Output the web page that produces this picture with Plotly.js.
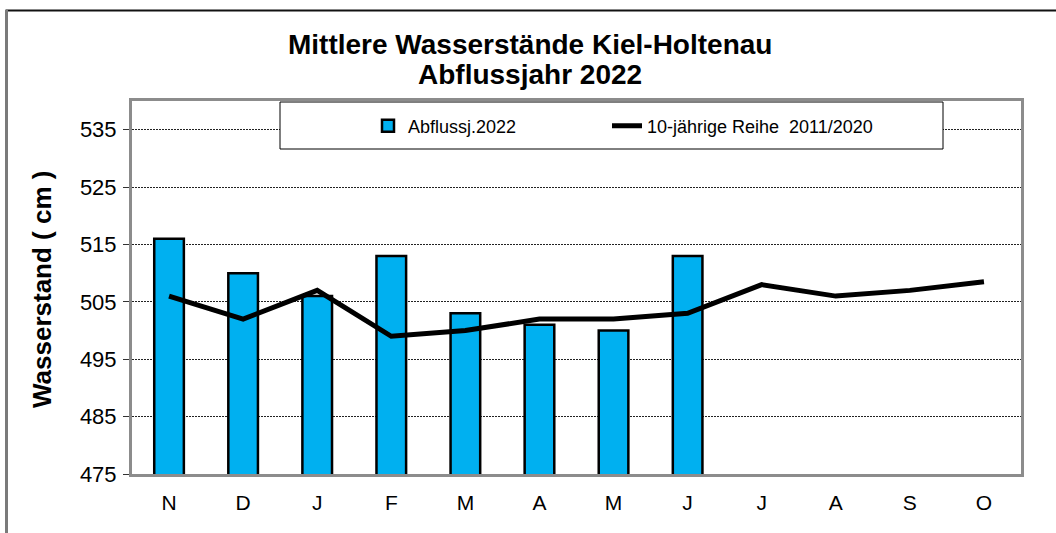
<!DOCTYPE html>
<html>
<head>
<meta charset="utf-8">
<script src="https://cdn.plot.ly/plotly-3.0.1.min.js"></script>
<style>html,body{margin:0;padding:0;background:#fff;}#chart{width:1056px;height:533px;}</style>
</head>
<body>
<div id="chart"></div>
<script>
const months = ['N','D','J','F','M','A','M','J','J','A','S','O'];
const barName = 'Abflussj.2022';
const barValues = [516, 510, 506, 513, 503, 501, 500, 513];
const lineName = '10-jährige Reihe  2011/2020';
const lineValues = [506, 502, 507, 499, 500, 502, 502, 503, 508, 506, 507, 508.5];
const yTicks = [475, 485, 495, 505, 515, 525, 535];
const titleLines = ['Mittlere Wasserstände Kiel-Holtenau', 'Abflussjahr 2022'];
const yTitle = 'Wasserstand ( cm )';

const idx = months.map((m, i) => i);
const font = 'Liberation Sans, Arial, sans-serif';

const traces = [
  {
    type: 'bar', name: barName, legend: 'legend',
    x: idx.slice(0, barValues.length), y: barValues,
    marker: {color: '#00B0F0', line: {color: '#000', width: 2.5}},
    hoverinfo: 'y'
  },
  {
    type: 'scatter', mode: 'lines', name: lineName, legend: 'legend2',
    x: idx, y: lineValues,
    line: {color: '#000', width: 5},
    hoverinfo: 'y'
  }
];

const L = 132, R = 1021, T = 101, B = 474;
const pw = R - L, ph = B - T;
const px = v => (v - L) / pw;
const py = v => 1 - (v - T) / ph;

const legendBase = {
  orientation: 'h', xanchor: 'left', y: py(126), yanchor: 'middle',
  bgcolor: 'rgba(0,0,0,0)', borderwidth: 0,
  font: {size: 18, family: font, color: '#000'}
};

const layout = {
  width: 1056, height: 533,
  margin: {l: L, r: 1056 - R, t: T, b: 533 - B},
  paper_bgcolor: '#fff', plot_bgcolor: '#fff',
  font: {family: font, color: '#000'},
  bargap: 0.6,
  showlegend: true,
  legend: Object.assign({}, legendBase, {x: px(368)}),
  legend2: Object.assign({}, legendBase, {x: px(607)}),
  xaxis: {
    range: [-0.5, 11.5], tickvals: idx, ticktext: months,
    showgrid: false, zeroline: false,
    showline: true, mirror: true, linecolor: '#8c8c8c', linewidth: 3,
    ticks: '', tickfont: {size: 21, family: font, color: '#000'},
    ticklabelstandoff: 8, fixedrange: true
  },
  yaxis: {
    range: [475, 540], tickvals: yTicks,
    showgrid: true, gridcolor: '#222', gridwidth: 1, griddash: '2px,1px',
    zeroline: false,
    showline: true, mirror: true, linecolor: '#8c8c8c', linewidth: 3,
    ticks: 'outside', ticklen: 6, tickcolor: '#333', tickwidth: 1,
    tickfont: {size: 22, family: font, color: '#000'},
    ticklabelstandoff: 2,
    fixedrange: true
  },
  annotations: [
    {text: '<b>' + titleLines[0] + '</b>', xref: 'paper', yref: 'paper', x: px(530), y: py(44),
     xanchor: 'center', yanchor: 'middle', showarrow: false, font: {size: 28, family: font, color: '#000'}},
    {text: '<b>' + titleLines[1] + '</b>', xref: 'paper', yref: 'paper', x: px(530), y: py(75),
     xanchor: 'center', yanchor: 'middle', showarrow: false, font: {size: 28, family: font, color: '#000'}},
    {text: '<b>' + yTitle + '</b>', xref: 'paper', yref: 'paper', x: px(42), y: py(290),
     xanchor: 'center', yanchor: 'middle', textangle: -90, showarrow: false, font: {size: 26, family: font, color: '#000'}}
  ],
  shapes: [
    {type: 'rect', xref: 'paper', yref: 'paper', x0: px(280), x1: px(943), y0: py(149), y1: py(102),
     line: {color: '#000', width: 1}, fillcolor: '#fff', layer: 'above'},
    {type: 'line', xref: 'paper', yref: 'paper', x0: px(5.5), x1: px(1070), y0: py(10.5), y1: py(10.5),
     line: {color: '#111', width: 2}},
    {type: 'line', xref: 'paper', yref: 'paper', x0: px(6.5), x1: px(6.5), y0: py(10), y1: py(560),
     line: {color: '#7a7a7a', width: 3}}
  ]
};

Plotly.newPlot('chart', traces, layout, {displayModeBar: false, staticPlot: true});
</script>
</body>
</html>
